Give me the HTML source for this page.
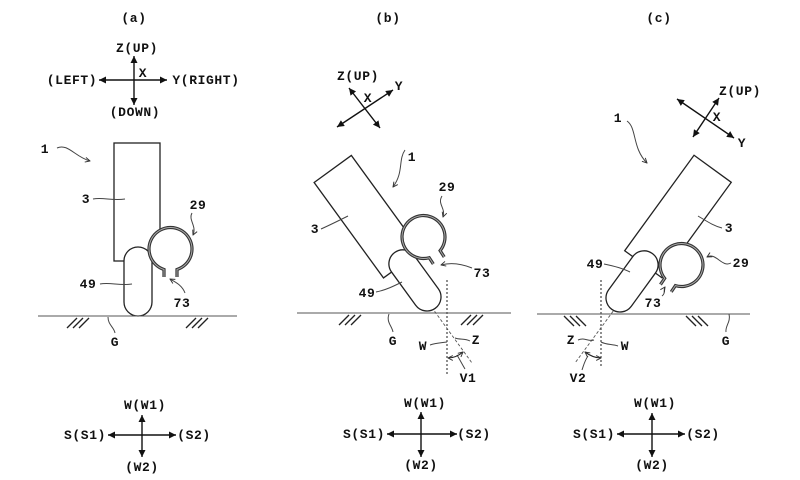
<!DOCTYPE html>
<html>
<head>
<meta charset="utf-8">
<style>
  html,body{margin:0;padding:0;background:#fff;}
  svg{display:block;}
  text{font-family:"Liberation Mono","DejaVu Sans Mono",monospace;font-weight:bold;font-size:13px;fill:#111;letter-spacing:0.6px;}
</style>
</head>
<body>
<svg width="800" height="480" viewBox="0 0 800 480" xmlns="http://www.w3.org/2000/svg">
<defs>
  <marker id="ah" viewBox="0 0 10 10" refX="10" refY="5" markerWidth="9" markerHeight="7" markerUnits="userSpaceOnUse" orient="auto-start-reverse">
    <path d="M0,0 L10,5 L0,10 z" fill="#111"/>
  </marker>
  <marker id="sa" viewBox="0 0 10 10" refX="9" refY="5" markerWidth="6" markerHeight="6" markerUnits="userSpaceOnUse" orient="auto-start-reverse">
    <path d="M1,1 L9,5 L1,9" fill="none" stroke="#333" stroke-width="1.6"/>
  </marker>
</defs>

<rect width="800" height="480" fill="#fff"/>

<!-- ================= PANEL (a) ================= -->
<text x="134" y="22" text-anchor="middle" font-size="11">(a)</text>
<g stroke="#111" stroke-width="1.4" fill="none">
  <line x1="134" y1="105" x2="134" y2="56" marker-end="url(#ah)" marker-start="url(#ah)"/>
  <line x1="99" y1="80" x2="167" y2="80" marker-end="url(#ah)" marker-start="url(#ah)"/>
</g>
<text x="137" y="52" text-anchor="middle">Z(UP)</text>
<text x="143" y="77" text-anchor="middle">X</text>
<text x="72" y="84" text-anchor="middle">(LEFT)</text>
<text x="206" y="84" text-anchor="middle">Y(RIGHT)</text>
<text x="135" y="116" text-anchor="middle">(DOWN)</text>

<!-- body a -->
<g stroke="#222" stroke-width="1.3" fill="#fff">
  <rect x="114" y="143" width="46" height="118"/>
  <rect x="124" y="247" width="28" height="69" rx="14" ry="14"/>
</g>
<g transform="translate(170.5 249)" fill="#fff">
  <path d="M -6.5 28 L -6.5 20.5 A 21.5 21.5 0 1 1 6.5 20.5 L 6.5 28" stroke="#333" stroke-width="3.2"/>
  <path d="M -6.5 28 L -6.5 20.5 A 21.5 21.5 0 1 1 6.5 20.5 L 6.5 28" stroke="#aaa" stroke-width="1" fill="none"/>
</g>
<!-- ground a -->
<line x1="38" y1="316" x2="237" y2="316" stroke="#555" stroke-width="1.1"/>
<g stroke="#222" stroke-width="1.3">
  <line x1="67" y1="328" x2="77" y2="318"/><line x1="73" y1="328" x2="83" y2="318"/><line x1="79" y1="328" x2="89" y2="318"/>
  <line x1="186" y1="328" x2="196" y2="318"/><line x1="192" y1="328" x2="202" y2="318"/><line x1="198" y1="328" x2="208" y2="318"/>
</g>
<!-- labels a -->
<g stroke="#444" stroke-width="1" fill="none">
  <path d="M57 148 C 68 143, 75 157, 90 161" marker-end="url(#sa)"/>
  <path d="M93 199 C 103 197, 112 201, 125 199"/>
  <path d="M100 284 C 110 282, 120 286, 132 284"/>
  <path d="M192 213 C 188 220, 197 226, 193 235" marker-end="url(#sa)"/>
  <path d="M185 293 C 182 285, 175 282, 170 279" marker-end="url(#sa)"/>
  <path d="M108 317 C 108 325, 114 327, 115 333"/>
</g>
<text x="45" y="153" text-anchor="middle">1</text>
<text x="86" y="203" text-anchor="middle">3</text>
<text x="88" y="288" text-anchor="middle">49</text>
<text x="198" y="209" text-anchor="middle">29</text>
<text x="182" y="307" text-anchor="middle">73</text>
<text x="115" y="346" text-anchor="middle">G</text>

<!-- bottom axes a -->
<g stroke="#111" stroke-width="1.4" fill="none">
  <line x1="142" y1="457" x2="142" y2="415" marker-end="url(#ah)" marker-start="url(#ah)"/>
  <line x1="108" y1="435" x2="176" y2="435" marker-end="url(#ah)" marker-start="url(#ah)"/>
</g>
<text x="145" y="409" text-anchor="middle">W(W1)</text>
<text x="85" y="439" text-anchor="middle">S(S1)</text>
<text x="194" y="439" text-anchor="middle">(S2)</text>
<text x="142" y="471" text-anchor="middle">(W2)</text>

<!-- ================= PANEL (b) ================= -->
<text x="388" y="22" text-anchor="middle" font-size="11">(b)</text>
<g stroke="#111" stroke-width="1.4" fill="none">
  <line x1="349" y1="88" x2="380" y2="128" marker-end="url(#ah)" marker-start="url(#ah)"/>
  <line x1="337" y1="127" x2="393" y2="90" marker-end="url(#ah)" marker-start="url(#ah)"/>
</g>
<text x="358" y="80" text-anchor="middle">Z(UP)</text>
<text x="399" y="90" text-anchor="middle">Y</text>
<text x="368" y="102" text-anchor="middle">X</text>

<!-- dotted W / dashed Z b -->
<line x1="447" y1="280" x2="447" y2="375" stroke="#333" stroke-width="1.1" stroke-dasharray="2 2"/>
<line x1="417" y1="287" x2="472" y2="363" stroke="#555" stroke-width="0.9" stroke-dasharray="3 2"/>

<!-- body b -->
<g transform="translate(427 297) rotate(-36) translate(-138 -302)" stroke="#222" stroke-width="1.3" fill="#fff">
  <rect x="114" y="143" width="46" height="118"/>
  <rect x="124" y="247" width="28" height="69" rx="14" ry="14"/>
</g>
<g transform="translate(423.5 237) rotate(-33)" fill="#fff">
  <path d="M -6.5 28 L -6.5 20.5 A 21.5 21.5 0 1 1 6.5 20.5 L 6.5 28" stroke="#333" stroke-width="3.2"/>
  <path d="M -6.5 28 L -6.5 20.5 A 21.5 21.5 0 1 1 6.5 20.5 L 6.5 28" stroke="#aaa" stroke-width="1" fill="none"/>
</g>
<!-- ground b -->
<line x1="297" y1="313" x2="511" y2="313" stroke="#555" stroke-width="1.1"/>
<g stroke="#222" stroke-width="1.3">
  <line x1="339" y1="325" x2="349" y2="315"/><line x1="345" y1="325" x2="355" y2="315"/><line x1="351" y1="325" x2="361" y2="315"/>
  <line x1="461" y1="325" x2="471" y2="315"/><line x1="467" y1="325" x2="477" y2="315"/><line x1="473" y1="325" x2="483" y2="315"/>
</g>
<!-- labels b -->
<g stroke="#444" stroke-width="1" fill="none">
  <path d="M405 150 C 398 160, 404 172, 393 187" marker-end="url(#sa)"/>
  <path d="M442 196 C 437 204, 446 208, 443 217" marker-end="url(#sa)"/>
  <path d="M321 229 C 330 225, 338 221, 348 216"/>
  <path d="M376 292 C 386 290, 394 286, 402 282"/>
  <path d="M472 268 C 462 264, 452 262, 441 265" marker-end="url(#sa)"/>
  <path d="M389 314 C 386 322, 392 326, 393 332"/>
  <path d="M430 345 C 436 343, 440 343, 447 342"/>
  <path d="M470 341 C 465 338, 460 340, 455 338"/>
  <path d="M465 369 C 462 364, 460 360, 457 355"/>
</g>
<path d="M448 358 Q 456 358 463 352" stroke="#222" stroke-width="1.1" fill="none" marker-start="url(#sa)" marker-end="url(#sa)"/>
<text x="412" y="161" text-anchor="middle">1</text>
<text x="447" y="191" text-anchor="middle">29</text>
<text x="315" y="233" text-anchor="middle">3</text>
<text x="367" y="297" text-anchor="middle">49</text>
<text x="482" y="277" text-anchor="middle">73</text>
<text x="393" y="345" text-anchor="middle">G</text>
<text x="423" y="350" text-anchor="middle">W</text>
<text x="476" y="344" text-anchor="middle">Z</text>
<text x="468" y="382" text-anchor="middle">V1</text>

<!-- bottom axes b -->
<g stroke="#111" stroke-width="1.4" fill="none">
  <line x1="421" y1="457" x2="421" y2="412" marker-end="url(#ah)" marker-start="url(#ah)"/>
  <line x1="387" y1="434" x2="457" y2="434" marker-end="url(#ah)" marker-start="url(#ah)"/>
</g>
<text x="425" y="407" text-anchor="middle">W(W1)</text>
<text x="364" y="438" text-anchor="middle">S(S1)</text>
<text x="474" y="438" text-anchor="middle">(S2)</text>
<text x="421" y="469" text-anchor="middle">(W2)</text>

<!-- ================= PANEL (c) ================= -->
<text x="659" y="22" text-anchor="middle" font-size="11">(c)</text>
<g stroke="#111" stroke-width="1.4" fill="none">
  <line x1="693" y1="137" x2="719" y2="98" marker-end="url(#ah)" marker-start="url(#ah)"/>
  <line x1="677" y1="99" x2="734" y2="138" marker-end="url(#ah)" marker-start="url(#ah)"/>
</g>
<text x="740" y="95" text-anchor="middle">Z(UP)</text>
<text x="717" y="121" text-anchor="middle">X</text>
<text x="742" y="147" text-anchor="middle">Y</text>

<!-- dotted W / dashed Z c -->
<line x1="601" y1="280" x2="601" y2="367" stroke="#333" stroke-width="1.1" stroke-dasharray="2 2"/>
<line x1="628" y1="291" x2="575" y2="363" stroke="#555" stroke-width="0.9" stroke-dasharray="3 2"/>

<!-- body c -->
<g transform="translate(620 298) rotate(36) translate(-138 -302)" stroke="#222" stroke-width="1.3" fill="#fff">
  <rect x="114" y="143" width="46" height="118"/>
  <rect x="124" y="247" width="28" height="69" rx="14" ry="14"/>
</g>
<g transform="translate(681.5 265) rotate(34)" fill="#fff">
  <path d="M -6.5 28 L -6.5 20.5 A 21.5 21.5 0 1 1 6.5 20.5 L 6.5 28" stroke="#333" stroke-width="3.2"/>
  <path d="M -6.5 28 L -6.5 20.5 A 21.5 21.5 0 1 1 6.5 20.5 L 6.5 28" stroke="#aaa" stroke-width="1" fill="none"/>
</g>
<!-- ground c -->
<line x1="537" y1="314" x2="750" y2="314" stroke="#555" stroke-width="1.1"/>
<g stroke="#222" stroke-width="1.3">
  <line x1="564" y1="316" x2="574" y2="326"/><line x1="570" y1="316" x2="580" y2="326"/><line x1="576" y1="316" x2="586" y2="326"/>
  <line x1="686" y1="316" x2="696" y2="326"/><line x1="692" y1="316" x2="702" y2="326"/><line x1="698" y1="316" x2="708" y2="326"/>
</g>
<!-- labels c -->
<g stroke="#444" stroke-width="1" fill="none">
  <path d="M627 121 C 637 128, 632 148, 647 163" marker-end="url(#sa)"/>
  <path d="M698 216 C 708 222, 714 226, 722 228"/>
  <path d="M731 263 C 722 268, 716 252, 707 257" marker-end="url(#sa)"/>
  <path d="M604 264 C 614 266, 622 268, 630 272"/>
  <path d="M662 296 C 666 293, 663 290, 665 287" marker-end="url(#sa)"/>
  <path d="M729 314 C 731 322, 725 326, 726 332"/>
  <path d="M578 340 C 585 337, 588 342, 594 340"/>
  <path d="M601 342 C 607 345, 612 344, 618 346"/>
  <path d="M582 370 C 584 364, 585 360, 588 356"/>
</g>
<path d="M585 352 Q 593 358 601 358" stroke="#222" stroke-width="1.1" fill="none" marker-start="url(#sa)" marker-end="url(#sa)"/>
<text x="618" y="122" text-anchor="middle">1</text>
<text x="729" y="232" text-anchor="middle">3</text>
<text x="741" y="267" text-anchor="middle">29</text>
<text x="595" y="268" text-anchor="middle">49</text>
<text x="653" y="307" text-anchor="middle">73</text>
<text x="726" y="345" text-anchor="middle">G</text>
<text x="571" y="344" text-anchor="middle">Z</text>
<text x="625" y="350" text-anchor="middle">W</text>
<text x="578" y="382" text-anchor="middle">V2</text>

<!-- bottom axes c -->
<g stroke="#111" stroke-width="1.4" fill="none">
  <line x1="652" y1="457" x2="652" y2="413" marker-end="url(#ah)" marker-start="url(#ah)"/>
  <line x1="617" y1="434" x2="685" y2="434" marker-end="url(#ah)" marker-start="url(#ah)"/>
</g>
<text x="655" y="407" text-anchor="middle">W(W1)</text>
<text x="594" y="438" text-anchor="middle">S(S1)</text>
<text x="703" y="438" text-anchor="middle">(S2)</text>
<text x="652" y="469" text-anchor="middle">(W2)</text>
</svg>
</body>
</html>
